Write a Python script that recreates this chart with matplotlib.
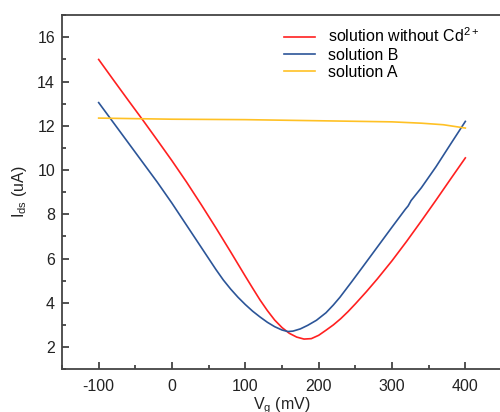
import matplotlib
matplotlib.use("Agg")
import matplotlib.pyplot as plt
from matplotlib.ticker import MultipleLocator

plt.rcParams['font.family'] = ['Liberation Sans', 'DejaVu Sans']
plt.rcParams['mathtext.fontset'] = 'custom'
plt.rcParams['mathtext.rm'] = 'Liberation Sans'
plt.rcParams['axes.unicode_minus'] = False

# gate voltage (mV) and drain current (uA)
vg_red = [-100, -80, -60, -40, -20, 0, 20, 40, 60, 80, 100, 110, 120, 130, 140,
          150, 160, 170, 180, 190, 200, 210, 220, 230, 240, 250, 265, 280, 300,
          320, 340, 360, 380, 400]
ids_red = [15.0, 14.08, 13.17, 12.27, 11.35, 10.42, 9.45, 8.43, 7.38, 6.3, 5.2,
           4.66, 4.13, 3.65, 3.22, 2.88, 2.62, 2.45, 2.36, 2.38, 2.53, 2.76, 3.0,
           3.28, 3.6, 3.95, 4.5, 5.08, 5.9, 6.78, 7.7, 8.64, 9.6, 10.55]

vg_blue = [-100, -80, -60, -40, -20, 0, 20, 40, 50, 60, 70, 80, 90, 100, 110,
           120, 130, 140, 150, 158, 165, 175, 185, 197, 210, 220, 229, 245, 260,
           280, 300, 318, 322, 326, 340, 360, 380, 400]
ids_blue = [13.05, 12.15, 11.25, 10.35, 9.45, 8.5, 7.5, 6.5, 6.0, 5.5, 5.03,
            4.62, 4.25, 3.92, 3.62, 3.36, 3.12, 2.92, 2.77, 2.7, 2.72, 2.82, 2.98,
            3.21, 3.55, 3.9, 4.25, 4.95, 5.62, 6.52, 7.42, 8.22, 8.38, 8.62, 9.2,
            10.15, 11.18, 12.2]

vg_yellow = [-100, 0, 100, 200, 300, 340, 370, 400]
ids_yellow = [12.35, 12.3, 12.28, 12.23, 12.18, 12.12, 12.05, 11.9]

labels = ['solution without Cd$^{2+}$', 'solution B', 'solution A']

fig = plt.figure(figsize=(5, 4.12), dpi=100)
ax = fig.add_axes([0.124, 0.104, 0.88, 0.859])

ax.plot(vg_red, ids_red, color='#ff2020', lw=1.2, label=labels[0])
ax.plot(vg_blue, ids_blue, color='#2c5598', lw=1.2, label=labels[1])
ax.plot(vg_yellow, ids_yellow, color='#ffc125', lw=1.2, label=labels[2])

ax.set_xlim(-150, 450)
ax.set_ylim(1, 17)
ax.xaxis.set_major_locator(MultipleLocator(100))
ax.xaxis.set_minor_locator(MultipleLocator(50))
ax.yaxis.set_major_locator(MultipleLocator(2))
ax.yaxis.set_minor_locator(MultipleLocator(1))
ax.tick_params(which='both', direction='in', colors='#333333', labelsize=11.5,
               labelcolor='#222222', width=1.2)
ax.tick_params(which='major', length=5)
ax.tick_params(which='minor', length=3)
ax.tick_params(axis='x', pad=7)
ax.tick_params(axis='y', pad=5)
for s in ax.spines.values():
    s.set_color('#444444')
    s.set_linewidth(1.3)

ax.set_xlabel('V$_{\\mathregular{g}}$ (mV)', fontsize=11.5, labelpad=1, color='#222222')
ax.set_ylabel('I$_{\\mathregular{ds}}$ (uA)', fontsize=11.5, labelpad=6, color='#222222')

ax.legend(loc='upper left', bbox_to_anchor=(0.48, 1.0), frameon=False, fontsize=11.5,
          handlelength=1.9, labelspacing=0.15, handletextpad=0.8,
          borderaxespad=0.3)

fig.savefig('out.png', dpi=100)
